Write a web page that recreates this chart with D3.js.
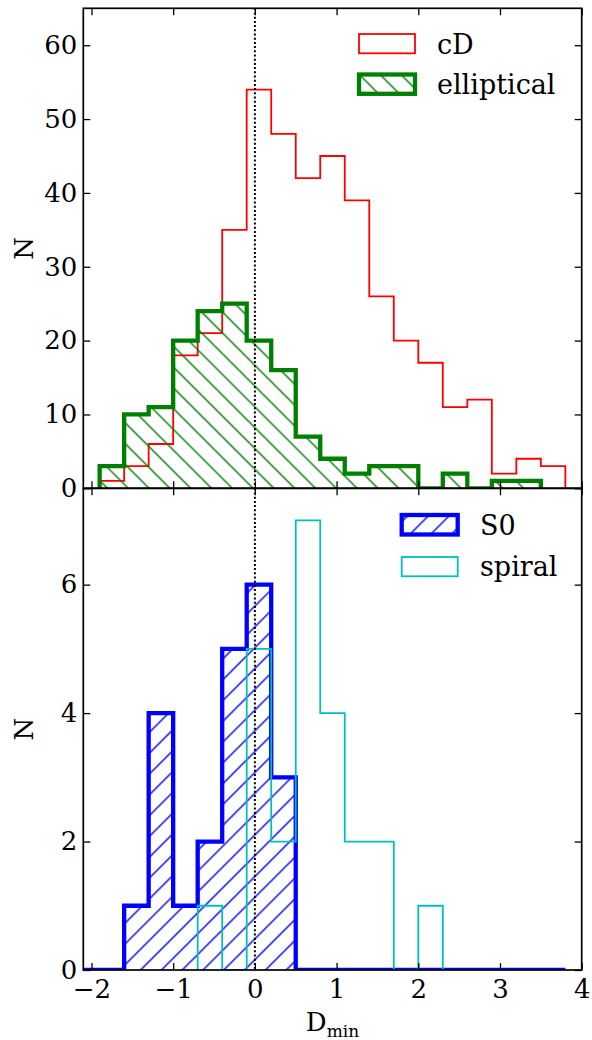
<!DOCTYPE html>
<html>
<head>
<meta charset="utf-8">
<script src="https://cdn.jsdelivr.net/npm/d3@7"></script>
<style>
  body { margin: 0; background: #fff; }
  svg { display: block; }
</style>
</head>
<body>
<svg id="chart" width="592" height="1040"></svg>
<script>
// ---- data ----
const binEdges = [-2.2, -1.9, -1.6, -1.3, -1.0, -0.7, -0.4, -0.1, 0.2, 0.5, 0.8, 1.1, 1.4, 1.7, 2.0, 2.3, 2.6, 2.9, 3.2, 3.5, 3.8];
// counts per bin; each series starts at the given edge
const cDStart = -1.9;
const cDCounts = [1, 3, 6, 18, 21, 35, 54, 48, 42, 45, 39, 26, 20, 17, 11, 12, 2, 4, 3];
const ellStart = -1.9;
const ellCounts = [3, 10, 11, 20, 24, 25, 20, 16, 7, 4, 2, 3, 3, 0, 2, 0, 1, 1];
const s0Start = -2.2;
const s0Counts = [0, 0, 1, 4, 1, 2, 5, 6, 3, 0, 0, 0, 0, 0, 0, 0, 0, 0, 0, 0];
const spiralStart = -0.7;
const spiralCounts = [1, 0, 5, 2, 7, 4, 2, 2, 0, 1];

const xTicks = [-2, -1, 0, 1, 2, 3, 4];
const yTopTicks = [0, 10, 20, 30, 40, 50, 60];
const yBotTicks = [0, 2, 4, 6];
const topLegend = ["cD", "elliptical"];
const botLegend = ["S0", "spiral"];

// ---- layout ----
const svg = d3.select("#chart");
const L = 83.3, R = 581.7, T = 8.3, MID = 488.3, B = 970;
const FONT = "'DejaVu Serif', serif";
const FS = 26;
const x = d3.scaleLinear().domain([-2.1, 4]).range([L, R]);
const yTop = d3.scaleLinear().domain([0, 65]).range([MID, T]);
const yBot = d3.scaleLinear().domain([0, 7.5]).range([B, MID]);
const HP = 20.8; // hatch period in px
const fmt = d3.format("d");

const defs = svg.append("defs");
function hatch(id, color, dir, phase) {
  const w = HP / Math.SQRT2;
  const tr = dir === "/" ? `translate(${phase},0) rotate(45)` : `translate(0,${phase}) rotate(-45)`;
  const p = defs.append("pattern").attr("id", id)
    .attr("patternUnits", "userSpaceOnUse")
    .attr("width", w).attr("height", 40)
    .attr("patternTransform", tr);
  p.append("line").attr("x1", 0).attr("y1", -5).attr("x2", 0).attr("y2", 45)
    .attr("stroke", color).attr("stroke-width", 1.4);
  p.append("line").attr("x1", w).attr("y1", -5).attr("x2", w).attr("y2", 45)
    .attr("stroke", color).attr("stroke-width", 1.4);
}
hatch("hatchG", "#008000", "\\", 6.4);
hatch("hatchB", "#0000ff", "/", 8.2);

defs.append("clipPath").attr("id", "clipTop").append("rect")
  .attr("x", L).attr("y", T).attr("width", R - L).attr("height", MID - T);
defs.append("clipPath").attr("id", "clipBot").append("rect")
  .attr("x", L).attr("y", MID).attr("width", R - L).attr("height", B - MID);

function edgesFor(start, n) {
  const i0 = binEdges.findIndex(e => Math.abs(e - start) < 1e-9);
  return binEdges.slice(i0, i0 + n + 1);
}
function stepPath(start, counts, y) {
  const e = edgesFor(start, counts.length);
  let d = `M${x(e[0])},${y(0)}`;
  counts.forEach((c, i) => {
    d += `V${y(c)}H${x(e[i + 1])}`;
  });
  d += `V${y(0)}`;
  return d;
}
function hist(g, start, counts, y, color, lw, fill) {
  if (fill) {
    g.append("path").attr("d", stepPath(start, counts, y) + "Z")
      .attr("fill", fill).attr("stroke", "none");
  }
  g.append("path").attr("d", stepPath(start, counts, y))
    .attr("fill", "none").attr("stroke", color).attr("stroke-width", lw)
    .attr("stroke-linejoin", "miter");
}

// ---- top panel ----
const gTop = svg.append("g").attr("clip-path", "url(#clipTop)");
hist(gTop, cDStart, cDCounts, yTop, "#ff0000", 1.8, null);
hist(gTop, ellStart, ellCounts, yTop, "#008000", 4.3, "url(#hatchG)");
gTop.append("line").attr("x1", x(0)).attr("x2", x(0)).attr("y1", T).attr("y2", MID)
  .attr("stroke", "#000").attr("stroke-width", 2).attr("stroke-dasharray", "2,2.2");

// ---- bottom panel ----
const gBot = svg.append("g").attr("clip-path", "url(#clipBot)");
hist(gBot, s0Start, s0Counts, yBot, "#0000ff", 4.3, "url(#hatchB)");
hist(gBot, spiralStart, spiralCounts, yBot, "#00bfbf", 1.8, null);
gBot.append("line").attr("x1", x(0)).attr("x2", x(0)).attr("y1", MID).attr("y2", B)
  .attr("stroke", "#000").attr("stroke-width", 2).attr("stroke-dasharray", "2,2.2");

// ---- axes ----
const TK = 7;
function styleAxis(g, labels) {
  g.attr("font-family", FONT).attr("font-size", FS);
  g.select(".domain").remove();
  g.selectAll(".tick line").attr("stroke", "#000").attr("stroke-width", 1.3);
  g.selectAll(".tick text").attr("font-family", FONT).attr("font-size", FS).attr("fill", "#000");
  if (!labels) g.selectAll(".tick text").remove();
}
function panelAxes(y0, y1, yScale, yTicks, showX) {
  svg.append("g").attr("transform", `translate(0,${y1})`)
    .call(d3.axisBottom(x).tickValues(xTicks).tickFormat(fmt).tickSizeInner(-TK).tickSizeOuter(0).tickPadding(10))
    .call(g => styleAxis(g, showX));
  svg.append("g").attr("transform", `translate(0,${y0})`)
    .call(d3.axisTop(x).tickValues(xTicks).tickSizeInner(-TK).tickSizeOuter(0))
    .call(g => styleAxis(g, false));
  svg.append("g").attr("transform", `translate(${L},0)`)
    .call(d3.axisLeft(yScale).tickValues(yTicks).tickFormat(fmt).tickSizeInner(-TK).tickSizeOuter(0).tickPadding(6))
    .call(g => styleAxis(g, true));
  svg.append("g").attr("transform", `translate(${R},0)`)
    .call(d3.axisRight(yScale).tickValues(yTicks).tickSizeInner(-TK).tickSizeOuter(0))
    .call(g => styleAxis(g, false));
  svg.append("rect").attr("x", L).attr("y", y0).attr("width", R - L).attr("height", y1 - y0)
    .attr("fill", "none").attr("stroke", "#000").attr("stroke-width", 1.7);
}
panelAxes(T, MID, yTop, yTopTicks, false);
panelAxes(MID, B, yBot, yBotTicks, true);

// ---- axis labels ----
[(T + MID) / 2, (MID + B) / 2].forEach(cy => {
  svg.append("text").attr("transform", `translate(33,${cy}) rotate(-90)`)
    .attr("text-anchor", "middle").attr("font-family", FONT).attr("font-size", FS)
    .text("N");
});
const xl = svg.append("text").attr("x", (L + R) / 2).attr("y", 1031)
  .attr("text-anchor", "middle").attr("font-family", FONT).attr("font-size", FS);
xl.append("tspan").text("D");
xl.append("tspan").attr("font-size", 17).attr("dy", 6).text("min");

// ---- legends ----
function legend(items, hx, tx, rows) {
  items.forEach((it, i) => {
    const r = rows[i];
    svg.append("rect").attr("x", hx).attr("y", r.y0).attr("width", 56).attr("height", r.h)
      .attr("fill", r.fill).attr("stroke", r.color).attr("stroke-width", r.lw);
    svg.append("text").attr("x", tx).attr("y", r.base)
      .attr("font-family", FONT).attr("font-size", 27).attr("fill", "#000").text(it);
  });
}
legend(topLegend, 359, 437, [
  { y0: 34, h: 19.3, color: "#ff0000", lw: 1.8, fill: "none", base: 53.5 },
  { y0: 74.5, h: 19.3, color: "#008000", lw: 4.3, fill: "url(#hatchG)", base: 94 }
]);
legend(botLegend, 401.7, 480, [
  { y0: 515, h: 19.5, color: "#0000ff", lw: 4.3, fill: "url(#hatchB)", base: 535 },
  { y0: 557, h: 19.3, color: "#00bfbf", lw: 1.8, fill: "none", base: 576 }
]);
</script>
</body>
</html>
